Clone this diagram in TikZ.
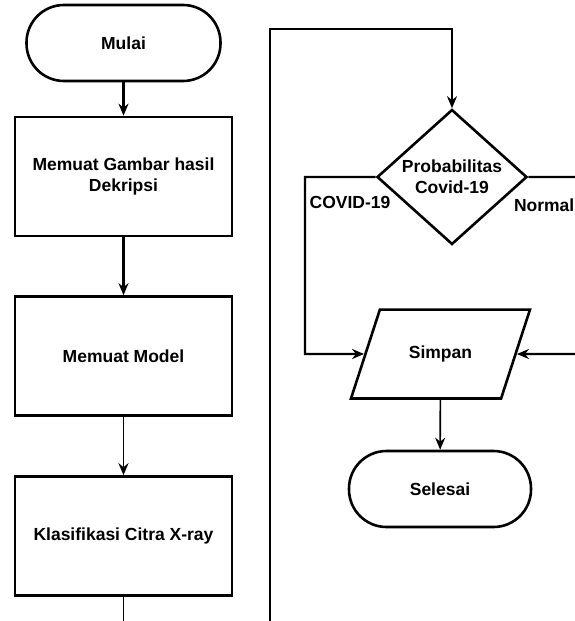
\documentclass[tikz,border=0pt]{standalone}
\usepackage{fontspec}
\setmainfont{Liberation Sans}
\usetikzlibrary{shapes.geometric,arrows.meta}

\begin{document}
\begin{tikzpicture}
        [x=1pt,y=-1pt,
        every node/.style={font=\bfseries\fontsize{17.5}{21}\selectfont,align=center,inner sep=0pt},
        terminal/.style={draw,line width=2.6pt,rounded corners=37.5pt,minimum width=194pt,minimum height=76pt},
        process/.style={draw,line width=2.6pt,minimum width=217pt,minimum height=119pt},
        decision/.style={draw,diamond,aspect=1.11,line width=2.6pt,minimum width=150pt,minimum height=135pt},
        io/.style={draw,trapezium,trapezium left angle=72,trapezium right angle=108,line width=2.6pt,
          text height=12.6pt,text depth=3.7pt,inner xsep=29pt,inner ysep=36.3pt},
        arr/.style={-{Stealth[length=12pt,width=10pt]},line width=2.2pt},
        thin arr/.style={arr,line width=1.6pt}]
        \clip (0,0) rectangle (575,621);
        \node[terminal] (mulai) at (123.5,43) {Mulai};
        \node[process] (gambar) at (123.5,176.5) {Memuat Gambar hasil\\Dekripsi};
        \node[process] (model) at (123.5,356) {Memuat Model};
        \node[process] (klasifikasi) at (123.5,536) {Klasifikasi Citra X-ray};
        \node[decision] (prob) at (452,177) {Probabilitas\\Covid-19};
        \node[io] (simpan) at (440.5,354) {Simpan};
        \node[terminal,minimum width=182pt] (selesai) at (440,489) {Selesai};
        \node (covid) at (350,202) {COVID-19};
        \node[anchor=east] (normal) at (574.5,205) {Normal};
        \coordinate (keluar) at (123.5,630);
        \coordinate (masuk) at (270,630);
        \coordinate (atas) at (452,29);
        \coordinate (kiri) at (305,354);
        \coordinate (kanan) at (582,354);
        \draw[arr] (mulai) -- (gambar);
        \draw[arr] (gambar) -- (model);
        \draw[thin arr] (model) -- (klasifikasi);
        \draw[line width=1.6pt] (klasifikasi) -- (keluar);
        \draw[arr] (masuk) |- (atas) -- (prob);
        \draw[arr] (prob.west) -| (kiri) -- (simpan.west);
        \draw[arr] (prob.east) -| (kanan) -- (simpan.east);
        \draw[thin arr] (simpan) -- (selesai);
\end{tikzpicture}
\end{document}
